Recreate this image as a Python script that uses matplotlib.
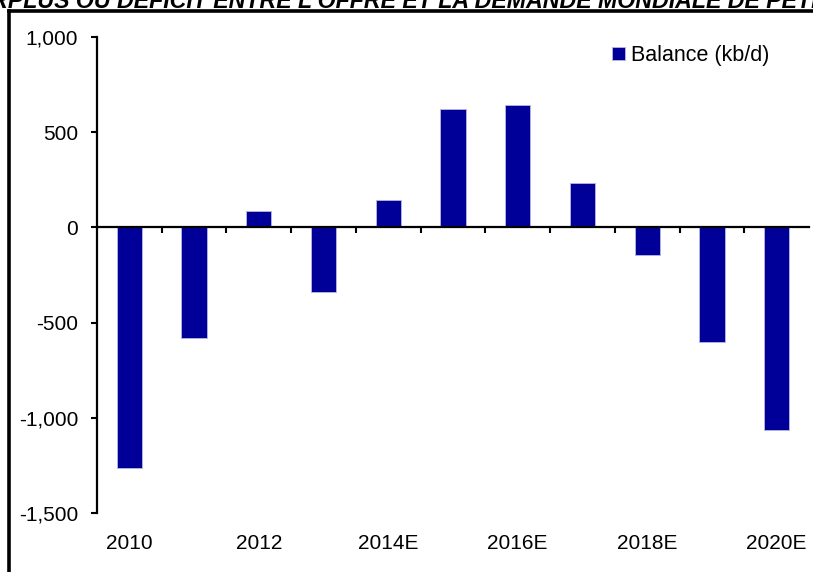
import matplotlib.pyplot as plt
from matplotlib.lines import Line2D

plt.rcParams['font.family'] = ['Liberation Sans', 'DejaVu Sans']

# data
years = ['2010', '2011', '2012', '2013', '2014E', '2015E',
         '2016E', '2017E', '2018E', '2019E', '2020E']
balance = [-1265, -580, 85, -340, 142, 620, 642, 235, -147, -600, -1065]
yticks = [1000, 500, 0, -500, -1000, -1500]
ytick_labels = ['1,000', '500', '0', '-500', '-1,000', '-1,500']

W, H = 813, 572
fig = plt.figure(figsize=(W / 100, H / 100), dpi=100)
ax = fig.add_axes([97 / W, 1 - 513 / H, (809 - 97) / W, (513 - 37) / H])

x = list(range(len(years)))
ax.bar(x, balance, width=0.39, color='#000099', edgecolor='#b8b8e0',
       linewidth=0.6, label='Balance (kb/d)', zorder=2)

ax.set_xlim(-0.5, len(years) - 0.5)
ax.set_ylim(-1500, 1000)

# y axis
ax.set_yticks(yticks)
ax.set_yticklabels(ytick_labels)
ax.tick_params(axis='y', direction='out', length=4.5, width=1.5,
               labelsize=15, pad=9)
ax.spines['left'].set_linewidth(1.6)
ax.spines['top'].set_visible(False)
ax.spines['right'].set_visible(False)

# zero line with ticks between categories
ax.spines['bottom'].set_position(('data', 0))
ax.spines['bottom'].set_linewidth(1.6)
ax.set_xticks([i + 0.5 for i in x[:-1]])
ax.set_xticklabels([])
ax.tick_params(axis='x', direction='out', length=4, width=1.5)

# category labels along the bottom
sec = ax.secondary_xaxis('bottom')
sec.set_xticks(x[::2])
sec.set_xticklabels(years[::2])
sec.tick_params(length=0, labelsize=15, pad=15)
sec.spines['bottom'].set_visible(False)

ax.legend(loc='upper right', bbox_to_anchor=(0.962, 1.01), frameon=False,
          fontsize=15.5, handlelength=0.6, handleheight=0.6,
          handletextpad=0.25, borderaxespad=0.2)

# cropped title and frame
fig.text(-41 / W, 1 - 8 / H,
         "SURPLUS OU DEFICIT ENTRE L'OFFRE ET LA DEMANDE MONDIALE DE PETROLE",
         fontsize=16.7, fontweight='bold', fontstyle='italic',
         ha='left', va='baseline')
fig.add_artist(Line2D([9 / W, 9 / W], [0, 1 - 11 / H], color='black', lw=2.6,
                      solid_capstyle='projecting'))
fig.add_artist(Line2D([9 / W, 1], [1 - 11 / H, 1 - 11 / H], color='black', lw=2.6,
                      solid_capstyle='projecting'))

fig.savefig('out.png', dpi=100)
